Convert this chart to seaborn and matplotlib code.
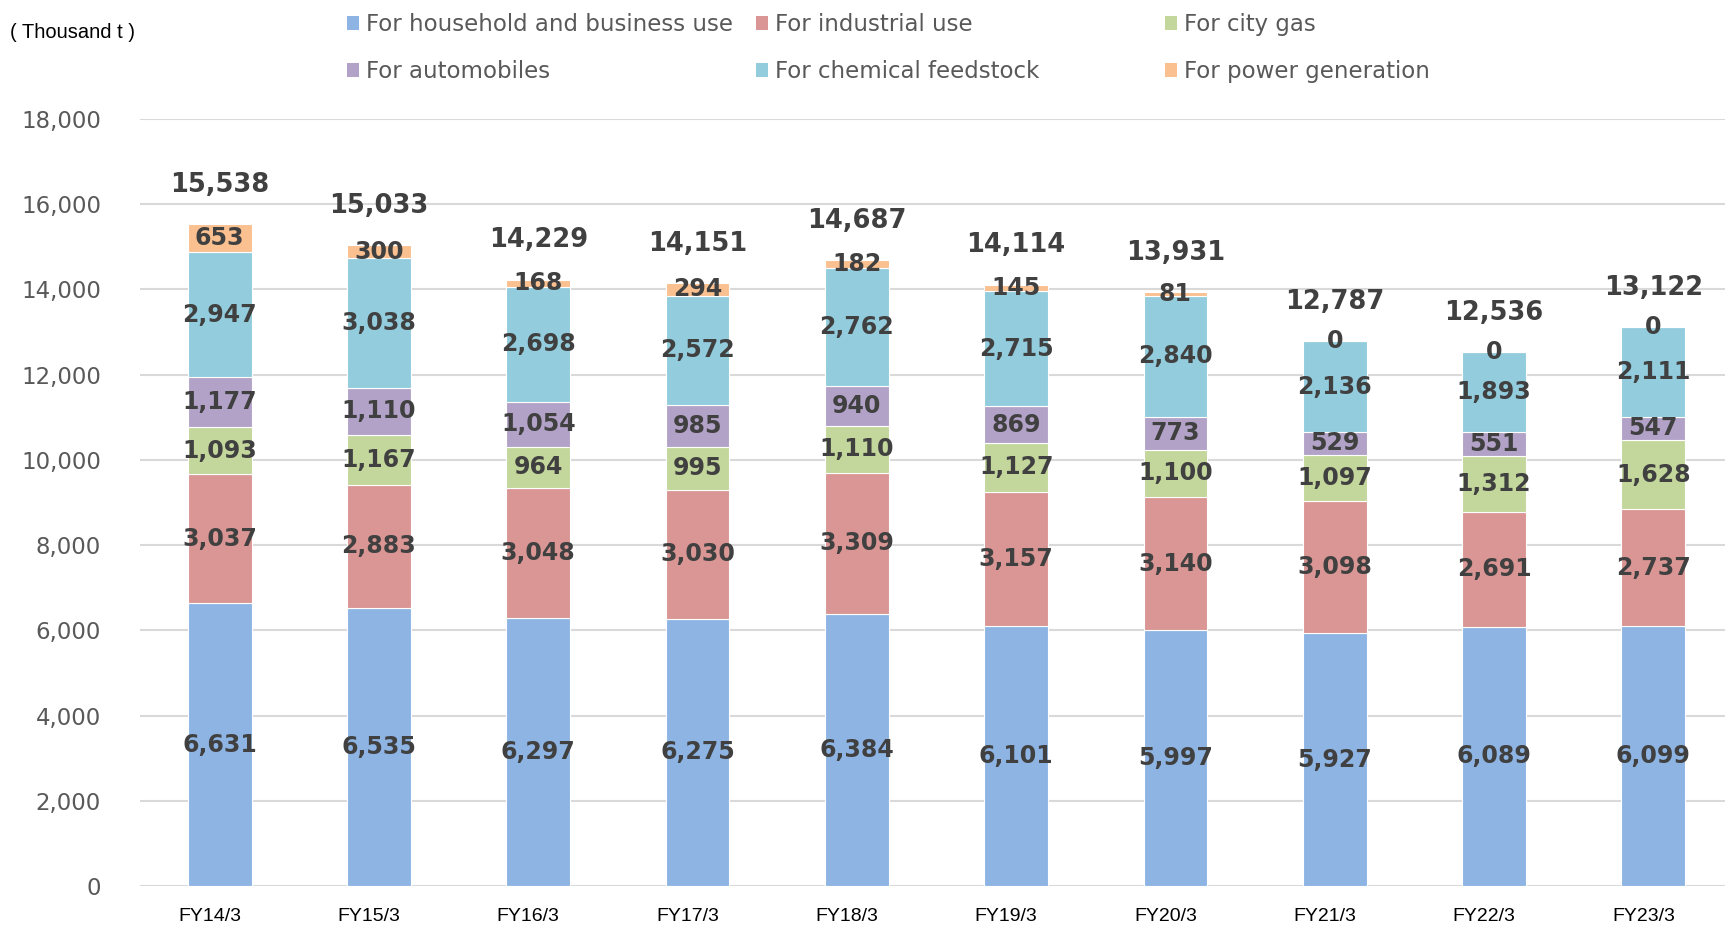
import matplotlib
matplotlib.use("Agg")
import matplotlib.pyplot as plt
import matplotlib.transforms as mtransforms
import seaborn as sns
import numpy as np
from matplotlib.patches import Patch

categories = ["FY14/3", "FY15/3", "FY16/3", "FY17/3", "FY18/3",
              "FY19/3", "FY20/3", "FY21/3", "FY22/3", "FY23/3"]
household = [6631, 6535, 6297, 6275, 6384, 6101, 5997, 5927, 6089, 6099]
industrial = [3037, 2883, 3048, 3030, 3309, 3157, 3140, 3098, 2691, 2737]
city_gas = [1093, 1167, 964, 995, 1110, 1127, 1100, 1097, 1312, 1628]
automobiles = [1177, 1110, 1054, 985, 940, 869, 773, 529, 551, 547]
chemical = [2947, 3038, 2698, 2572, 2762, 2715, 2840, 2136, 1893, 2111]
power = [653, 300, 168, 294, 182, 145, 81, 0, 0, 0]
totals = [15538, 15033, 14229, 14151, 14687, 14114, 13931, 12787, 12536, 13122]

series_names = ["For household and business use", "For industrial use", "For city gas",
                "For automobiles", "For chemical feedstock", "For power generation"]
series_vals = [household, industrial, city_gas, automobiles, chemical, power]
colors = ["#8EB4E3", "#D99694", "#C3D69B", "#B3A2C7", "#93CDDD", "#FAC090"]

sns.set_theme(style="white")
plt.rcParams['font.family'] = ['DejaVu Sans']

fig = plt.figure(figsize=(17.25, 9.26), dpi=100)
ax = fig.add_axes([140 / 1725, 1 - 886 / 926, 1 - 140 / 1725, (886 - 119) / 926])

cum = np.zeros(len(categories))
for name, vals, col in zip(series_names, series_vals, colors):
    v = np.array(vals, dtype=float)
    sns.barplot(x=categories, y=v, bottom=cum, color=col, saturation=1,
                width=0.4, edgecolor="white", linewidth=0.8, ax=ax, zorder=3)
    for i, (b, h) in enumerate(zip(cum, v)):
        ax.text(i, b + h / 2, f"{int(h):,}", ha="center", va="center",
                fontsize=17, fontweight="bold", color="#404040", zorder=5)
    cum += v

for i, t in enumerate(totals):
    ax.text(i, t + 920, f"{t:,}", ha="center", va="center",
            fontsize=18.5, fontweight="bold", color="#404040", zorder=5)

ax.set_ylim(0, 18000)
ax.set_xlim(-0.5, 9.45)
ax.set_yticks(np.arange(0, 18001, 2000))
ax.set_yticklabels([f"{v:,}" for v in range(0, 18001, 2000)],
                   fontsize=16.5, color="#595959")
ax.tick_params(axis="y", length=0, pad=28)
ax.tick_params(axis="x", length=0, pad=16)
shift = mtransforms.ScaledTranslation(-10 / 100, 0, fig.dpi_scale_trans)
for lbl in ax.get_xticklabels():
    lbl.set_fontfamily("Liberation Sans")
    lbl.set_fontsize(14)
    lbl.set_color("#000000")
    lbl.set_transform(lbl.get_transform() + shift)
ax.grid(axis="y", color="#D9D9D9", linewidth=1.5, zorder=0)
ax.set_axisbelow(True)
for s in ax.spines.values():
    s.set_visible(False)
ax.set_xlabel("")
ax.set_ylabel("")

fig.text(10 / 1725, 1 - 33 / 926, "( Thousand t )", fontsize=14.5,
         family="Liberation Sans", color="#000000", va="center", ha="left")

col_x = [340 / 1725, 749 / 1725, 1158 / 1725]
for c in range(3):
    handles = [Patch(facecolor=colors[c], edgecolor="none"),
               Patch(facecolor=colors[c + 3], edgecolor="none")]
    labels = [series_names[c], series_names[c + 3]]
    fig.legend(handles, labels, loc="upper left",
               bbox_to_anchor=(col_x[c], 1 - 6 / 926), frameon=False,
               fontsize=16.5, labelcolor="#595959", handlelength=0.55,
               handleheight=0.55, handletextpad=0.3, labelspacing=1.05,
               borderaxespad=0, borderpad=0.3)

fig.savefig("out.png", dpi=100)
